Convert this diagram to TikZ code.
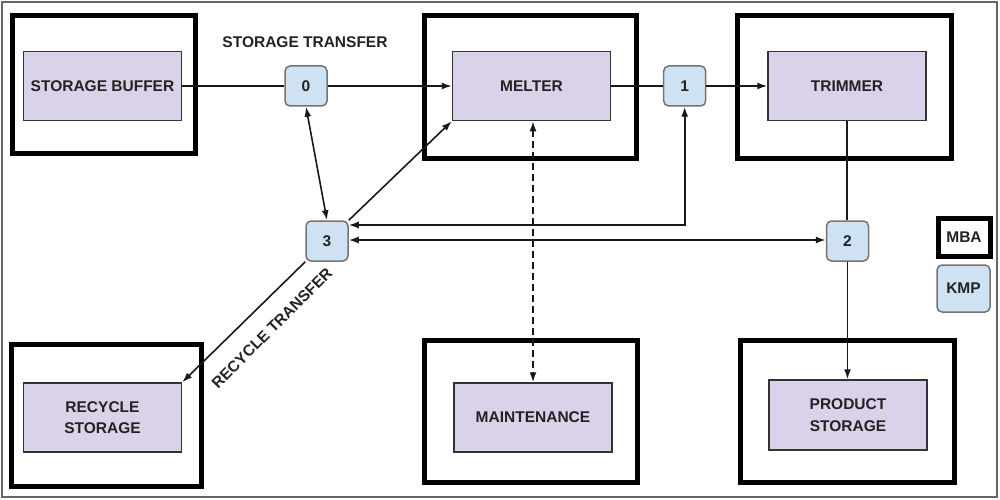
\documentclass[tikz,border=0pt]{standalone}
\usepackage{fontspec}
\setmainfont{Liberation Sans}
\usetikzlibrary{arrows.meta}
\definecolor{lav}{HTML}{D9D2E9}
\definecolor{kmpblue}{HTML}{CFE2F3}
\definecolor{txt}{HTML}{222222}
\begin{document}
\begin{tikzpicture}[x=1pt,y=-1pt,
  mba/.style={draw=black,line width=5pt,minimum width=#1,minimum height=142pt,inner sep=0pt},
  proc/.style={draw=black!80,fill=lav,line width=1.5pt,minimum width=158pt,minimum height=69pt,inner sep=0pt,
    font=\fontsize{15.5}{21.5}\selectfont\bfseries,text=txt,align=center},
  kmp/.style={draw=black!55,fill=kmpblue,line width=1.5pt,rounded corners=5pt,minimum width=42pt,minimum height=40pt,
    inner sep=0pt,font=\fontsize{15.5}{18}\selectfont\bfseries,text=txt},
  lbl/.style={font=\fontsize{15.5}{18}\selectfont\bfseries,text=txt,inner sep=0pt},
  conn/.style={draw=black!90,line width=1.6pt},
  tip/.style={-{Latex[length=10pt,width=7pt]}},
  dtip/.style={{Latex[length=10pt,width=7pt]}-{Latex[length=10pt,width=7pt]}},
]
\useasboundingbox (0,0) rectangle (1000,500);
\draw[black!60,line width=1.5pt] (2,2) rectangle (997,497);

% MBA boxes
\node[mba=183pt,minimum height=137pt] (sbo) at (103.5,84.5) {};
\node[mba=212pt] (meo) at (530,87) {};
\node[mba=214pt] (tro) at (844,87) {};
\node[mba=190pt] (rco) at (106,415) {};
\node[mba=213pt] (mno) at (530.5,411) {};
\node[mba=214pt] (pso) at (847,411) {};

% process boxes
\node[proc] (sb) at (102.5,86) {STORAGE BUFFER};
\node[proc] (melter) at (531.5,86) {MELTER};
\node[proc] (trimmer) at (847,86) {TRIMMER};
\node[proc] (recycle) at (102.5,417.5) {RECYCLE\\STORAGE};
\node[proc] (maint) at (533,417.5) {MAINTENANCE};
\node[proc,minimum height=70pt] (product) at (848,415) {PRODUCT\\STORAGE};

% KMP nodes
\node[kmp] (k0) at (306,86) {0};
\node[kmp] (k1) at (684.7,86) {1};
\node[kmp] (k3) at (327,241) {3};
\node[kmp] (k2) at (847.5,241) {2};

% legend
\node[draw=black,line width=5pt,minimum width=52pt,minimum height=38pt,inner sep=0pt,
  font=\fontsize{15.5}{18}\selectfont\bfseries,text=txt] (mbaleg) at (964,237) {MBA};
\node[kmp,minimum width=53pt,minimum height=47pt] (kmpleg) at (963.5,288.5) {KMP};

% labels
\node[lbl] (stlab) at (305,42) {STORAGE TRANSFER};
\node[lbl,rotate=45] (rclab) at (272,328) {RECYCLE TRANSFER};

% connectors
\draw[conn] (sb.east) -- (k0.west);
\draw[conn,tip] (k0.east) -- (melter.west);
\draw[conn] (melter.east) -- (k1.west);
\draw[conn,tip] (k1.east) -- (trimmer.west);
\draw[conn,dtip] (k0.south) -- (k3.north);
\draw[conn,tip] (k3.north east) -- (melter.south west);
\draw[conn,dtip] ([yshift=16pt]k3.east) -| (k1.south);
\draw[conn,dtip] ([yshift=1pt]k3.east) -- ([yshift=1pt]k2.west);
\draw[conn] (trimmer.south) -- (trimmer.south |- k2.north);
\draw[conn,tip] (k2.south) -- (k2.south |- product.north);
\coordinate (dx) at (533,0);
\draw[conn,dtip,dash pattern=on 7pt off 4pt] (dx |- melter.south) -- (dx |- maint.north);
\draw[conn,tip] (k3.south west) -- (recycle.north east);
\end{tikzpicture}
\end{document}
